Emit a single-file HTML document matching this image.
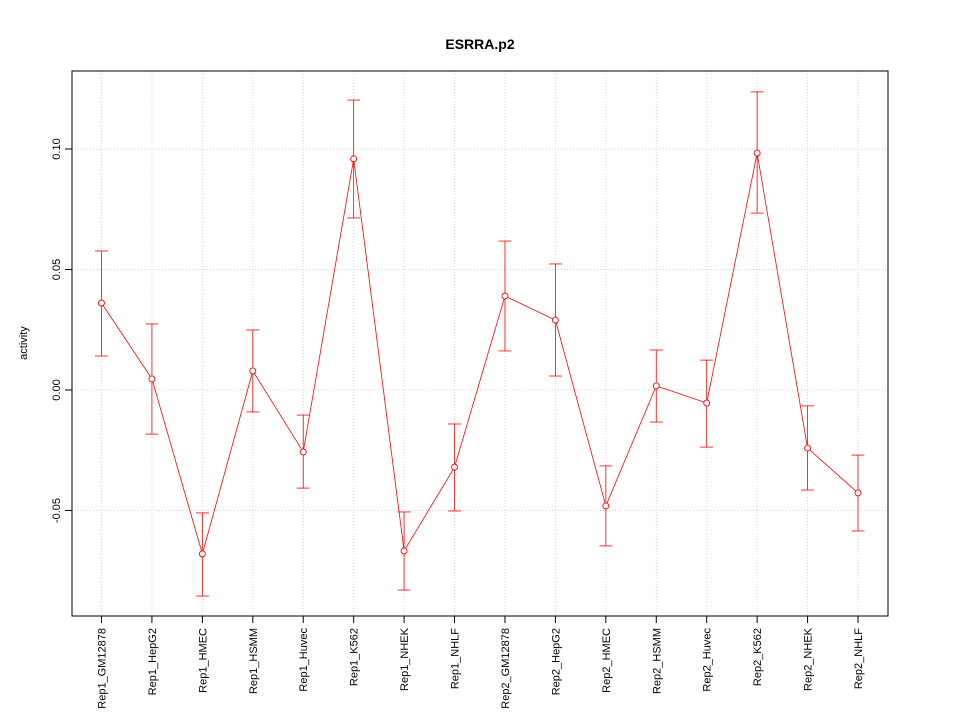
<!DOCTYPE html>
<html><head><meta charset="utf-8"><style>
body{margin:0;background:#fff;}
svg text{font-family:"Liberation Sans",sans-serif;}
</style></head><body>
<svg id="chart" width="960" height="720" xmlns="http://www.w3.org/2000/svg"></svg>
<script>
const categories=["Rep1_GM12878","Rep1_HepG2","Rep1_HMEC","Rep1_HSMM","Rep1_Huvec","Rep1_K562","Rep1_NHEK","Rep1_NHLF","Rep2_GM12878","Rep2_HepG2","Rep2_HMEC","Rep2_HSMM","Rep2_Huvec","Rep2_K562","Rep2_NHEK","Rep2_NHLF"];
const values=[0.0361,0.0046,-0.068,0.0079,-0.0257,0.0959,-0.0668,-0.032,0.039,0.029,-0.0481,0.0017,-0.0054,0.0983,-0.0241,-0.0427];
const upper=[0.0577,0.0274,-0.051,0.0249,-0.0104,0.1203,-0.0506,-0.0141,0.0618,0.0523,-0.0315,0.0166,0.0124,0.1237,-0.0066,-0.027];
const lower=[0.0141,-0.0183,-0.0855,-0.0091,-0.0407,0.0714,-0.083,-0.0502,0.0162,0.0058,-0.0647,-0.0133,-0.0237,0.0734,-0.0415,-0.0585];
const yTicks=[-0.05,0,0.05,0.1];
const yTickLabels=["-0.05","0.00","0.05","0.10"];
const svg=document.getElementById('chart');
const NS="http://www.w3.org/2000/svg";
function mk(t,a,p){const e=document.createElementNS(NS,t);for(const k in a)e.setAttribute(k,a[k]);(p||svg).appendChild(e);return e;}
const L=72,R=888,T=71,B=616;
const x=i=>101.5+i*(858-101.5)/(categories.length-1);
const y=v=>390-v*2410;
yTicks.forEach(v=>{const g=mk('line',{x1:L,x2:R,y1:y(v),y2:y(v),stroke:'#d3d3d3','stroke-dasharray':'1,2'});

});
categories.forEach((c,i)=>{const g=mk('line',{x1:x(i),x2:x(i),y1:T,y2:B,stroke:'#d3d3d3','stroke-dasharray':'1,2'});

});
const box=mk('rect',{x:L,y:T,width:R-L,height:B-T,fill:'none',stroke:'#000'});


yTicks.forEach((v,i)=>{mk('line',{x1:L-7,x2:L,y1:y(v),y2:y(v),stroke:'#000'});
const t=mk('text',{x:L-12,y:y(v),'font-size':11,'text-anchor':'middle',transform:`rotate(-90 ${L-12} ${y(v)})`});
t.textContent=yTickLabels[i];

});
categories.forEach((c,i)=>{mk('line',{x1:x(i),x2:x(i),y1:B,y2:B+7,stroke:'#000'});
const t=mk('text',{x:x(i)+4,y:B+12,'font-size':11,'text-anchor':'end',transform:`rotate(-90 ${x(i)+4} ${B+12})`});
t.textContent=c;

});
const pl=mk('polyline',{points:values.map((v,i)=>x(i)+','+y(v)).join(' '),fill:'none',stroke:'#f00','stroke-width':0.8});


values.forEach((v,i)=>{
const g=mk('g',{stroke:'#f00',fill:'none','stroke-width':0.8});


mk('line',{x1:x(i),x2:x(i),y1:y(upper[i]),y2:y(lower[i])},g);
mk('line',{x1:x(i)-6.5,x2:x(i)+6.5,y1:y(upper[i]),y2:y(upper[i])},g);
mk('line',{x1:x(i)-6.5,x2:x(i)+6.5,y1:y(lower[i]),y2:y(lower[i])},g);
const c=mk('circle',{cx:x(i),cy:y(v),r:3,fill:'#fff',stroke:'#f00','stroke-width':0.9});


});
const title=mk('text',{x:480,y:49,'font-size':14,'font-weight':'bold','text-anchor':'middle'});
title.textContent='ESRRA.p2';


const yl=mk('text',{x:27,y:343,'font-size':11,'text-anchor':'middle',transform:'rotate(-90 27 343)'});
yl.textContent='activity';


</script>
</body></html>
